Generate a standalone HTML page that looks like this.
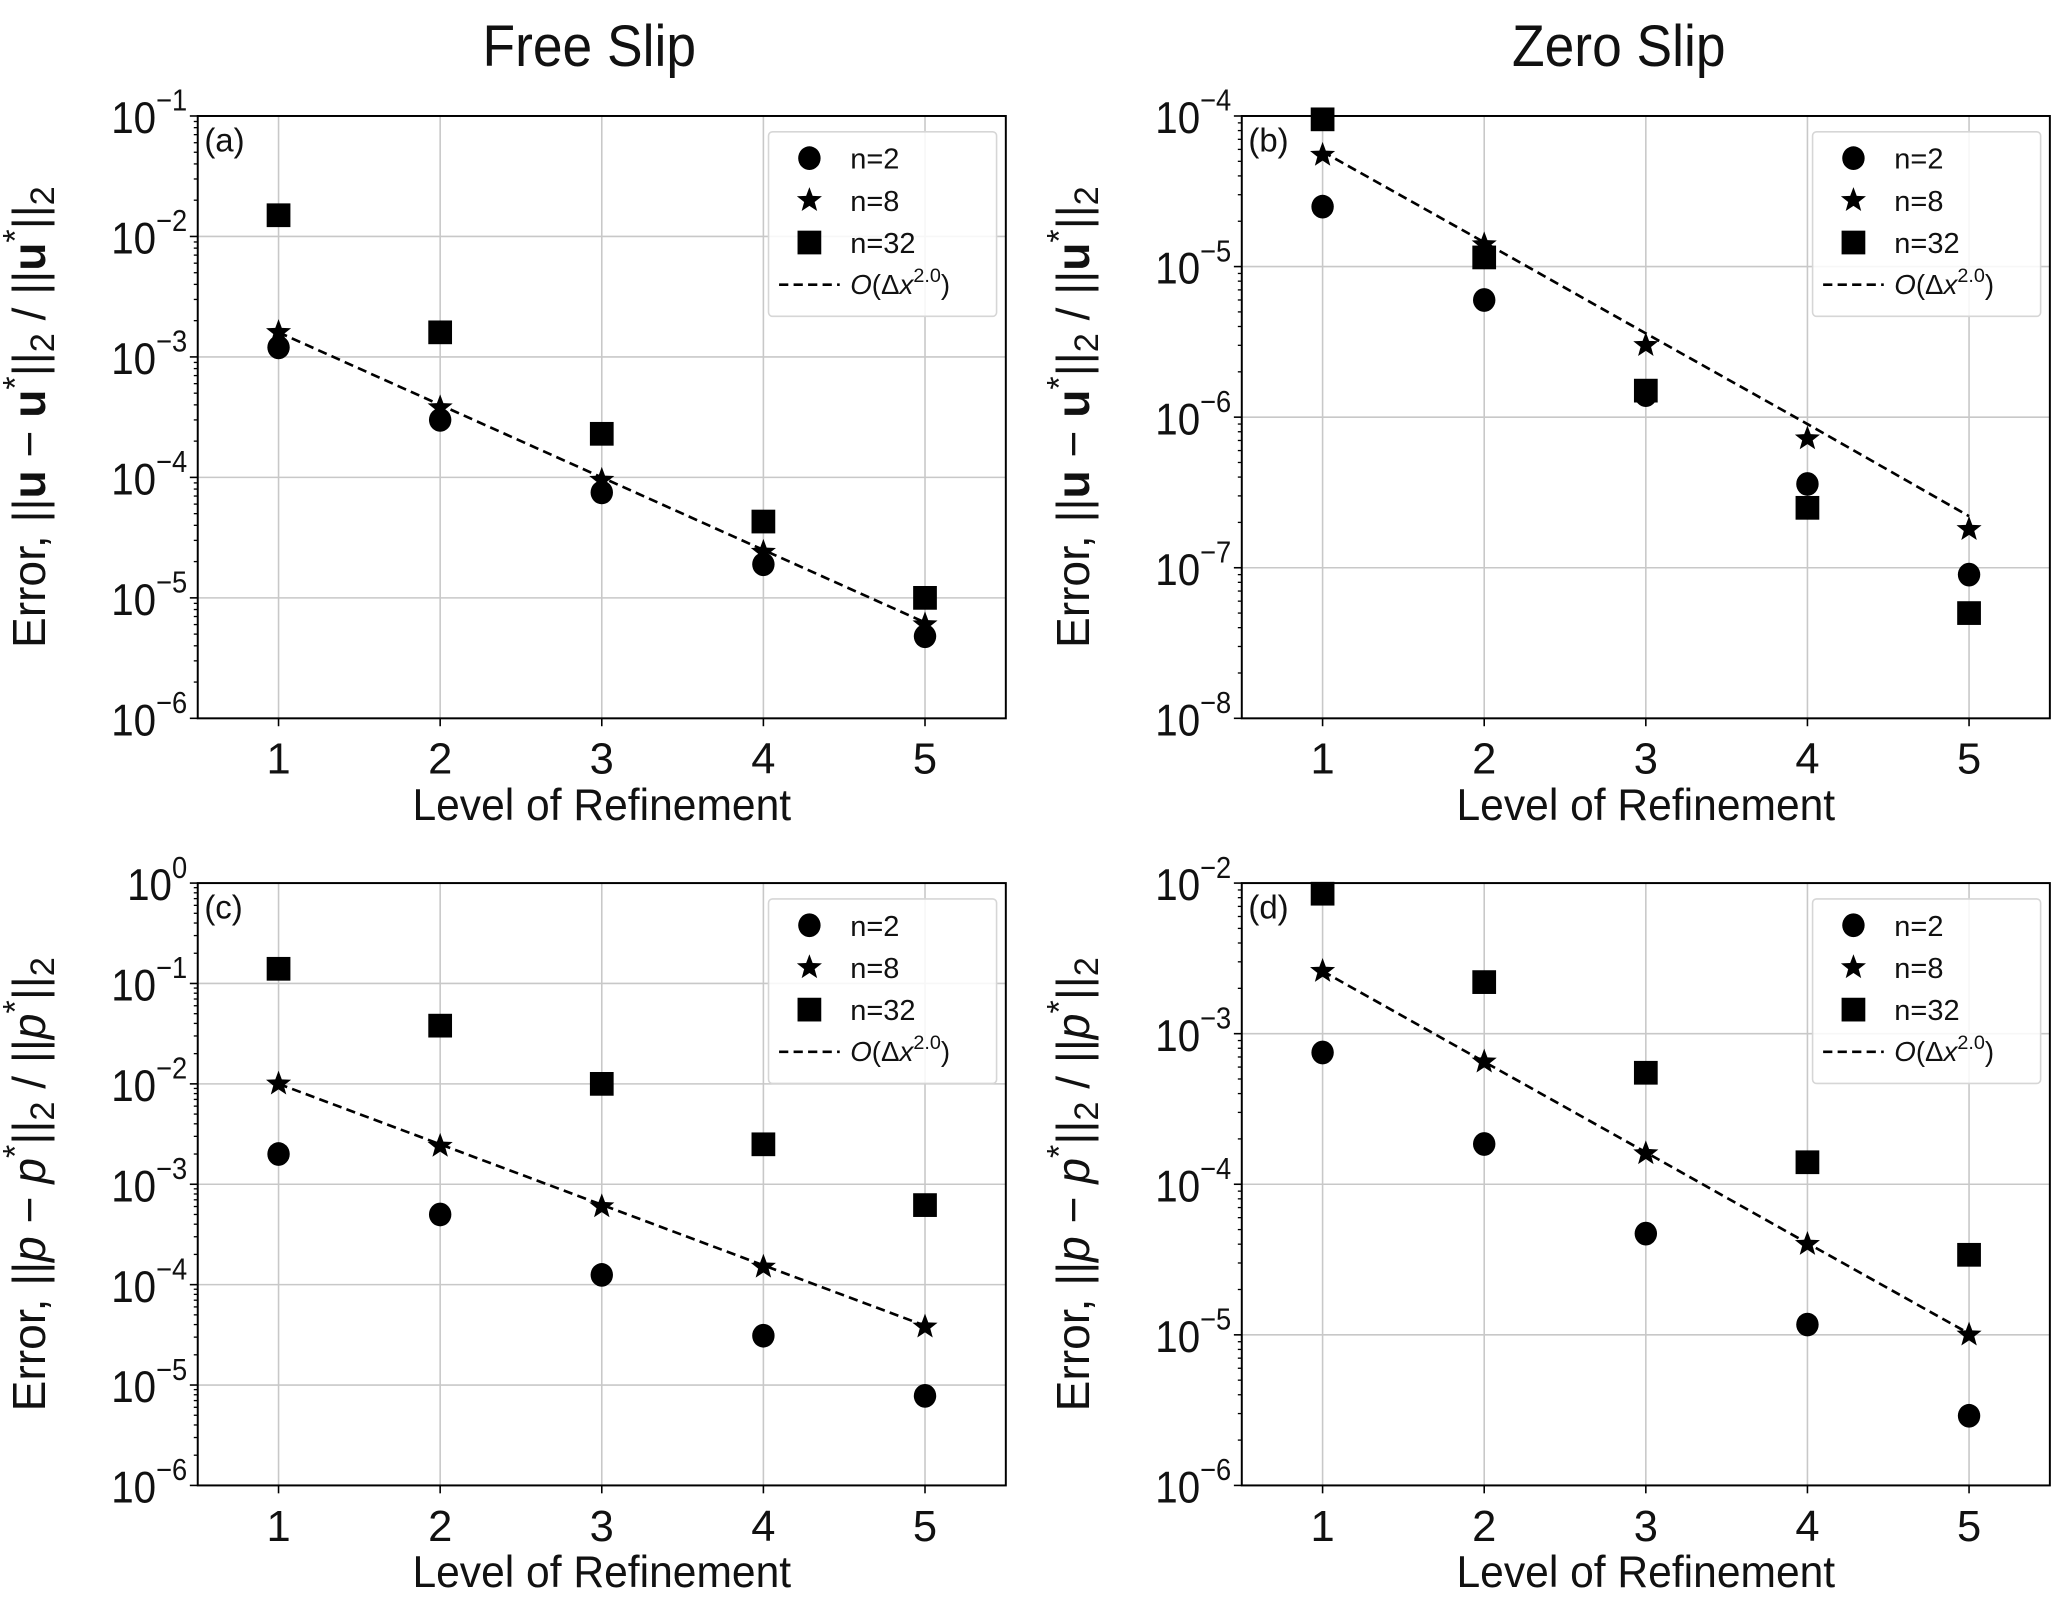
<!DOCTYPE html>
<html><head><meta charset="utf-8"><style>
html,body{margin:0;padding:0;background:#fff;}
svg{display:block;font-family:"Liberation Sans","DejaVu Sans",sans-serif;}
</style></head><body>
<svg id="fig" width="2067" height="1608" viewBox="0 0 1568 1220" preserveAspectRatio="none" xmlns="http://www.w3.org/2000/svg">
<rect width="1568" height="1220" fill="#fff"/>
<text x="447" y="50" font-size="44" text-anchor="middle" fill="#111" transform="translate(447,0) scale(0.92,1) translate(-447,0)">Free Slip</text>
<text x="1228" y="50" font-size="44" text-anchor="middle" fill="#111" transform="translate(1228,0) scale(0.92,1) translate(-1228,0)">Zero Slip</text>
</svg>
<script>
const levels = [1,2,3,4,5];
// panel (a)
const a_n2  = [1.2e-3, 3.0e-4, 7.5e-5, 1.9e-5, 4.8e-6];
const a_n8  = [1.6e-3, 3.8e-4, 9.5e-5, 2.4e-5, 6.0e-6];
const a_n32 = [1.5e-2, 1.6e-3, 2.3e-4, 4.3e-5, 1.0e-5];
const a_fit = [1.6e-3, 4.0e-4, 1.0e-4, 2.5e-5, 6.25e-6];
// panel (b)
const b_n2  = [2.5e-5, 6.0e-6, 1.4e-6, 3.6e-7, 9.0e-8];
const b_n8  = [5.5e-5, 1.4e-5, 3.0e-6, 7.2e-7, 1.8e-7];
const b_n32 = [9.5e-5, 1.15e-5, 1.5e-6, 2.5e-7, 5.0e-8];
const b_fit = [5.8e-5, 1.45e-5, 3.6e-6, 9.0e-7, 2.2e-7];
// panel (c)
const c_n2  = [2.0e-3, 5.0e-4, 1.25e-4, 3.1e-5, 7.8e-6];
const c_n8  = [1.0e-2, 2.4e-3, 6.0e-4, 1.5e-4, 3.8e-5];
const c_n32 = [0.14, 0.038, 0.01, 2.5e-3, 6.2e-4];
const c_fit = [1.0e-2, 2.5e-3, 6.25e-4, 1.56e-4, 3.9e-5];
// panel (d)
const d_n2  = [7.5e-4, 1.85e-4, 4.7e-5, 1.17e-5, 2.9e-6];
const d_n8  = [2.6e-3, 6.5e-4, 1.6e-4, 4.0e-5, 1.0e-5];
const d_n32 = [8.5e-3, 2.2e-3, 5.5e-4, 1.4e-4, 3.4e-5];
const d_fit = [2.6e-3, 6.5e-4, 1.63e-4, 4.06e-5, 1.02e-5];
const xTicks = [1,2,3,4,5];
const legendLabels = ['n=2','n=8','n=32'];

const NS='http://www.w3.org/2000/svg';
const svg=document.getElementById('fig');
function mk(tag,attrs,parent){const e=document.createElementNS(NS,tag);for(const k in attrs)e.setAttribute(k,attrs[k]);(parent||svg).appendChild(e);return e;}
function starPath(cx,cy,r){let d='';for(let i=0;i<10;i++){const rr=i%2?r*0.42:r;const ang=-Math.PI/2+i*Math.PI/5;d+=(i?'L':'M')+(cx+rr*Math.cos(ang)).toFixed(2)+','+(cy+rr*Math.sin(ang)).toFixed(2);}return d+'Z';}
function marker(g,type,cx,cy){
  let e;
  if(type==='circle'){e=mk('ellipse',{cx:cx,cy:cy,rx:8.5,ry:9,fill:'#000'},g);}
  else if(type==='star'){e=mk('path',{d:starPath(cx,cy,10),fill:'#000'},g);}
  else {e=mk('rect',{x:cx-9,y:cy-9,width:18,height:18,fill:'#000'},g);}
  return e;
}
function panel(p){
  const g=mk('g',{});
  
  
  const L=p.left,R=p.left+613,T=p.top,B=p.top+457;
  const xs=v=>L+(v-0.5)/5*(R-L);
  const ys=v=>T+(p.ymax-Math.log10(v))/(p.ymax-p.ymin)*(B-T);
  for(const t of xTicks){const l=mk('line',{x1:xs(t),x2:xs(t),y1:T,y2:B,stroke:'#c8c8c8','stroke-width':1.2},g);
    }
  for(let e=p.ymin;e<=p.ymax;e++){const y=ys(Math.pow(10,e));
    const l=mk('line',{x1:L,x2:R,y1:y,y2:y,stroke:'#c8c8c8','stroke-width':1.2},g);
    
    mk('line',{x1:L-6,x2:L,y1:y,y2:y,stroke:'#000','stroke-width':1.2},g);
    const tx=mk('text',{x:L-8,y:y+13,'font-size':34,'text-anchor':'end',fill:'#111',transform:'translate('+(L-8)+',0) scale(0.9,1) translate('+(-(L-8))+',0)'},g);
    
    tx.innerHTML='10<tspan dy="-17" font-size="23">'+(e===0?'0':'\u2212'+(-e))+'</tspan>';
    if(e<p.ymax){for(let m=2;m<10;m++){const ym=ys(m*Math.pow(10,e));mk('line',{x1:L-3,x2:L,y1:ym,y2:ym,stroke:'#000','stroke-width':1},g);}}
  }
  for(const t of xTicks){mk('line',{x1:xs(t),x2:xs(t),y1:B,y2:B+6,stroke:'#000','stroke-width':1.2},g);
    const tx=mk('text',{x:xs(t),y:B+42,'font-size':33,'text-anchor':'middle',fill:'#111'},g);
    tx.textContent=t;}
  const fit=mk('polyline',{points:levels.map((l,i)=>xs(l)+','+ys(p.fit[i])).join(' '),fill:'none',stroke:'#000','stroke-width':2,'stroke-dasharray':'7,4'},g);
  
  const series=[['circle',p.n2,'n2'],['star',p.n8,'n8'],['square',p.n32,'n32']];
  for(const s of series){levels.forEach((l,i)=>{const m=marker(g,s[0],xs(l),ys(s[1][i]));
    });}
  const fr=mk('rect',{x:L,y:T,width:R-L,height:B-T,fill:'none',stroke:'#000','stroke-width':1.5},g);
  
  const pl=mk('text',{x:L+5,y:T+27,'font-size':25,fill:'#111'},g);
  pl.textContent='('+p.id+')';
  const lg=mk('g',{},g);
  
  mk('rect',{x:L+433,y:T+12,width:173,height:140,rx:3,fill:'#fff','fill-opacity':0.85,stroke:'#d6d6d6','stroke-width':1.2},lg);
  const types=['circle','star','square'];
  for(let i=0;i<3;i++){const yy=T+32+i*32;marker(lg,types[i],L+464,yy);
    const t=mk('text',{x:L+495,y:yy+8,'font-size':22,fill:'#111'},lg);
    t.textContent=legendLabels[i];}
  const yy=T+128;
  mk('line',{x1:L+441,x2:L+487,y1:yy,y2:yy,stroke:'#000','stroke-width':2,'stroke-dasharray':'7,4'},lg);
  const ft=mk('text',{x:L+495,y:yy+7,'font-size':21,fill:'#111'},lg);
  
  ft.innerHTML='<tspan font-style="italic">O</tspan>(Δ<tspan font-style="italic">x</tspan><tspan dy="-9" font-size="15">2.0</tspan><tspan dy="9">)</tspan>';
  const xl=mk('text',{x:(L+R)/2,y:B+77,'font-size':34,'text-anchor':'middle',fill:'#111',transform:'translate('+((L+R)/2)+',0) scale(0.95,1) translate('+(-(L+R)/2)+',0)'},g);
  xl.textContent='Level of Refinement';
  const cy=(T+B)/2;
  const yl=mk('text',{x:0,y:0,'font-size':35,'text-anchor':'middle',fill:'#111',transform:'translate('+(L-116)+','+cy+') rotate(-90)'},g);
  
  if(p.kind==='u') yl.innerHTML='Error, ||<tspan font-weight="bold">u</tspan> − <tspan font-weight="bold">u</tspan><tspan dy="-14" font-size="26">*</tspan><tspan dy="14">||</tspan><tspan dy="7" font-size="26">2</tspan><tspan dy="-7"> / ||</tspan><tspan font-weight="bold">u</tspan><tspan dy="-14" font-size="26">*</tspan><tspan dy="14">||</tspan><tspan dy="7" font-size="26">2</tspan>';
  else yl.innerHTML='Error, ||<tspan font-style="italic">p</tspan> − <tspan font-style="italic">p</tspan><tspan dy="-14" font-size="26">*</tspan><tspan dy="14">||</tspan><tspan dy="7" font-size="26">2</tspan><tspan dy="-7"> / ||</tspan><tspan font-style="italic">p</tspan><tspan dy="-14" font-size="26">*</tspan><tspan dy="14">||</tspan><tspan dy="7" font-size="26">2</tspan>';
}
panel({id:'a',left:150,top:88,ymin:-6,ymax:-1,n2:a_n2,n8:a_n8,n32:a_n32,fit:a_fit,kind:'u'});
panel({id:'b',left:942,top:88,ymin:-8,ymax:-4,n2:b_n2,n8:b_n8,n32:b_n32,fit:b_fit,kind:'u'});
panel({id:'c',left:150,top:670,ymin:-6,ymax:0,n2:c_n2,n8:c_n8,n32:c_n32,fit:c_fit,kind:'p'});
panel({id:'d',left:942,top:670,ymin:-6,ymax:-2,n2:d_n2,n8:d_n8,n32:d_n32,fit:d_fit,kind:'p'});
</script>
</body></html>
